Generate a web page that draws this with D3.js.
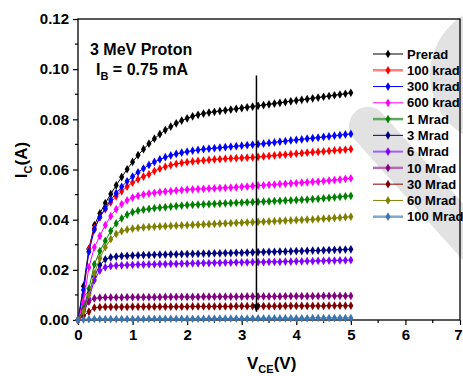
<!DOCTYPE html>
<html><head><meta charset="utf-8">
<script src="https://cdn.jsdelivr.net/npm/d3@7"></script>
<style>body{margin:0;background:#fff;}svg{display:block;font-family:"Liberation Sans",Arial,sans-serif;font-weight:bold;}</style>
</head><body>
<svg id="c" width="463" height="376"></svg>
<script>
const voltage = [0,0.1,0.2,0.3,0.4,0.5,0.6,0.7,0.8,0.9,1.0,1.1,1.2,1.3,1.4,1.5,1.6,1.7,1.8,1.9,2.0,2.1,2.2,2.3,2.4,2.5,2.6,2.7,2.8,2.9,3.0,3.1,3.2,3.3,3.4,3.5,3.6,3.7,3.8,3.9,4.0,4.1,4.2,4.3,4.4,4.5,4.6,4.7,4.8,4.9,5.0];
const seriesNames = ["Prerad","100 krad","300 krad","600 krad","1 Mrad","3 Mrad","6 Mrad","10 Mrad","30 Mrad","60 Mrad","100 Mrad"];
const prerad  = [0,0.0135,0.0284,0.0378,0.0425,0.0466,0.0502,0.0537,0.0570,0.0601,0.0630,0.0657,0.0681,0.0703,0.0723,0.0741,0.0757,0.0771,0.0784,0.0795,0.0804,0.0812,0.0818,0.0823,0.0827,0.0830,0.0833,0.0836,0.0839,0.0842,0.0845,0.0848,0.0851,0.0854,0.0857,0.0860,0.0863,0.0866,0.0869,0.0872,0.0875,0.0878,0.0881,0.0884,0.0887,0.0890,0.0893,0.0896,0.0899,0.0902,0.0906];
const krad100 = [0,0.0100,0.0282,0.0366,0.0410,0.0442,0.0469,0.0493,0.0513,0.0532,0.0548,0.0561,0.0572,0.0581,0.0594,0.0603,0.0611,0.0617,0.0622,0.0626,0.0629,0.0632,0.0634,0.0636,0.0638,0.0640,0.0641,0.0643,0.0644,0.0645,0.0646,0.0647,0.0648,0.0650,0.0652,0.0654,0.0656,0.0658,0.0659,0.0661,0.0663,0.0665,0.0667,0.0669,0.0670,0.0672,0.0674,0.0676,0.0677,0.0679,0.0681];
const krad300 = [0,0.0120,0.0272,0.0360,0.0410,0.0446,0.0478,0.0506,0.0531,0.0553,0.0572,0.0589,0.0604,0.0618,0.0630,0.0640,0.0649,0.0656,0.0662,0.0667,0.0671,0.0675,0.0678,0.0681,0.0683,0.0685,0.0687,0.0689,0.0691,0.0693,0.0695,0.0697,0.0699,0.0701,0.0703,0.0706,0.0708,0.0711,0.0713,0.0716,0.0718,0.0720,0.0723,0.0725,0.0727,0.0730,0.0732,0.0735,0.0737,0.0740,0.0742];
const krad600 = [0,0.0070,0.0210,0.0290,0.0335,0.0378,0.0414,0.0442,0.0462,0.0477,0.0488,0.0495,0.0500,0.0504,0.0507,0.0510,0.0512,0.0514,0.0516,0.0518,0.0520,0.0521,0.0522,0.0523,0.0524,0.0525,0.0526,0.0527,0.0528,0.0529,0.0531,0.0532,0.0534,0.0536,0.0537,0.0539,0.0540,0.0542,0.0543,0.0545,0.0546,0.0548,0.0549,0.0551,0.0552,0.0554,0.0556,0.0558,0.0560,0.0563,0.0565];
const mrad1   = [0,0.0045,0.0125,0.0222,0.0275,0.0315,0.0355,0.0385,0.0405,0.0420,0.0430,0.0436,0.0440,0.0443,0.0446,0.0448,0.0450,0.0452,0.0454,0.0456,0.0458,0.0459,0.0460,0.0461,0.0462,0.0463,0.0464,0.0465,0.0466,0.0467,0.0468,0.0469,0.0470,0.0471,0.0472,0.0473,0.0474,0.0475,0.0476,0.0477,0.0478,0.0479,0.0480,0.0482,0.0483,0.0485,0.0487,0.0489,0.0491,0.0493,0.0495];
const mrad3   = [0,0.0035,0.0106,0.0173,0.0219,0.0242,0.0250,0.0253,0.0255,0.0256,0.0257,0.0258,0.0259,0.0259,0.0260,0.0261,0.0261,0.0262,0.0262,0.0263,0.0263,0.0264,0.0264,0.0265,0.0265,0.0266,0.0266,0.0267,0.0267,0.0268,0.0268,0.0269,0.0270,0.0271,0.0271,0.0272,0.0272,0.0273,0.0273,0.0274,0.0275,0.0275,0.0276,0.0277,0.0277,0.0278,0.0279,0.0280,0.0280,0.0281,0.0282];
const mrad6   = [0,0.0020,0.0085,0.0159,0.0197,0.0210,0.0215,0.0217,0.0218,0.0219,0.0220,0.0221,0.0221,0.0222,0.0222,0.0223,0.0223,0.0224,0.0224,0.0225,0.0225,0.0226,0.0226,0.0227,0.0227,0.0228,0.0228,0.0229,0.0229,0.0230,0.0230,0.0230,0.0231,0.0231,0.0231,0.0232,0.0232,0.0232,0.0233,0.0233,0.0234,0.0234,0.0235,0.0235,0.0236,0.0236,0.0237,0.0237,0.0238,0.0238,0.0239];
const mrad10  = [0,0.0040,0.0073,0.0086,0.0089,0.0090,0.0090,0.0090,0.0090,0.0091,0.0091,0.0091,0.0091,0.0091,0.0091,0.0091,0.0092,0.0092,0.0092,0.0092,0.0092,0.0092,0.0092,0.0093,0.0093,0.0093,0.0093,0.0093,0.0093,0.0093,0.0093,0.0094,0.0094,0.0094,0.0094,0.0094,0.0094,0.0094,0.0095,0.0095,0.0095,0.0095,0.0095,0.0095,0.0095,0.0096,0.0096,0.0096,0.0096,0.0096,0.0096];
const mrad30  = [0,0.0016,0.0033,0.0049,0.0051,0.0052,0.0052,0.0052,0.0052,0.0052,0.0053,0.0053,0.0053,0.0053,0.0053,0.0053,0.0053,0.0053,0.0053,0.0053,0.0053,0.0054,0.0054,0.0054,0.0054,0.0054,0.0054,0.0054,0.0054,0.0055,0.0055,0.0055,0.0055,0.0055,0.0055,0.0055,0.0055,0.0055,0.0056,0.0056,0.0056,0.0056,0.0056,0.0056,0.0056,0.0056,0.0057,0.0057,0.0057,0.0057,0.0057];
const mrad60  = [0,0.0033,0.0100,0.0185,0.0246,0.0290,0.0322,0.0343,0.0354,0.0360,0.0364,0.0367,0.0369,0.0371,0.0372,0.0373,0.0374,0.0375,0.0376,0.0377,0.0378,0.0379,0.0380,0.0381,0.0382,0.0383,0.0384,0.0385,0.0386,0.0387,0.0388,0.0389,0.0390,0.0391,0.0392,0.0393,0.0394,0.0395,0.0396,0.0397,0.0398,0.0399,0.0400,0.0401,0.0403,0.0404,0.0405,0.0407,0.0408,0.0410,0.0412];
const mrad100 = [0,0.0002,0.0003,0.0004,0.0004,0.0004,0.0004,0.0004,0.0004,0.0004,0.0004,0.0004,0.0004,0.0005,0.0005,0.0005,0.0005,0.0005,0.0005,0.0005,0.0005,0.0005,0.0005,0.0005,0.0006,0.0006,0.0006,0.0006,0.0006,0.0006,0.0006,0.0006,0.0006,0.0007,0.0007,0.0007,0.0007,0.0007,0.0007,0.0007,0.0007,0.0007,0.0007,0.0008,0.0008,0.0008,0.0008,0.0008,0.0008,0.0008,0.0008];
const seriesValues = [prerad,krad100,krad300,krad600,mrad1,mrad3,mrad6,mrad10,mrad30,mrad60,mrad100];
const seriesColors = ["#000000","#FF0000","#0000FF","#FF00FF","#008000","#000080","#8000FF","#800080","#800000","#808000","#3B76B0"];
const legendLineColors = ["#000000","#FF8080","#0000FF","#FF00FF","#60A860","#000080","#A060FF","#B070B0","#800000","#808000","#80A8D0"];
const legendLineWidths = [1,2.5,1,1,2.5,1,2,2.5,1,1,2.5];
const xTicks = [0,1,2,3,4,5,6,7];
const yTicks = [0,0.02,0.04,0.06,0.08,0.10,0.12];
const markerV = 3.27, markerTop = 0.0975, markerBottom = 0.0033;

const svg = d3.select("#c");
const L=78, R=460, T=19, B=320;
const x = d3.scaleLinear().domain([0,7]).range([L,R]);
const y = d3.scaleLinear().domain([0,0.12]).range([B,T]);

// background watermark shapes
svg.append("line").attr("x1",368).attr("y1",126).attr("x2",490).attr("y2",262)
  .attr("stroke","#e2e2e2").attr("stroke-width",38).attr("stroke-linecap","round");
svg.append("circle").attr("cx",500).attr("cy",75).attr("r",70).attr("fill","#e2e2e2");

// axes
const xAxis = d3.axisBottom(x).tickValues(xTicks).tickFormat(d3.format("d")).tickSize(5).tickPadding(4);
const gx = svg.append("g").attr("transform",`translate(0,${B})`).call(xAxis);
const yAxis = d3.axisLeft(y).tickValues(yTicks).tickFormat(d3.format(".2f")).tickSize(5).tickPadding(4);
const gy = svg.append("g").attr("transform",`translate(${L},0)`).call(yAxis);
[gx,gy].forEach(g=>{g.select(".domain").remove();g.selectAll("line").attr("stroke","#000").attr("stroke-width",1.2);
  g.selectAll("text").attr("font-size",15).attr("font-weight","bold").attr("fill","#000").attr("font-family","Liberation Sans, Arial, sans-serif");});
gx.selectAll(".tick").filter(d=>d===7).select("text").attr("dx",-2);
// minor ticks
const xMinor = xTicks.slice(0,-1).map(d=>d+0.5);
svg.append("g").selectAll("line").data(xMinor).join("line")
  .attr("x1",d=>x(d)).attr("x2",d=>x(d)).attr("y1",B).attr("y2",B+3).attr("stroke","#000").attr("stroke-width",1.2);
const yMinor = yTicks.slice(0,-1).map(d=>d+0.01);
svg.append("g").selectAll("line").data(yMinor).join("line")
  .attr("y1",d=>y(d)).attr("y2",d=>y(d)).attr("x1",L-3).attr("x2",L).attr("stroke","#000").attr("stroke-width",1.2);
// frame
svg.append("rect").attr("x",L).attr("y",T).attr("width",R-L).attr("height",B-T)
  .attr("fill","none").attr("stroke","#000").attr("stroke-width",1.3);

// series
const line = d3.line().x((d,i)=>x(voltage[i])).y(d=>y(d));
const sym = d3.symbol().type(d3.symbolDiamond).size(22);
seriesValues.forEach((vals,k)=>{
  const g = svg.append("g");
  g.append("path").datum(vals).attr("d",line).attr("fill","none").attr("stroke",seriesColors[k]).attr("stroke-width",1);
  g.selectAll("path.m").data(vals).join("path").attr("class","m")
    .attr("transform",(d,i)=>`translate(${x(voltage[i])},${y(d)})`).attr("d",sym).attr("fill",seriesColors[k]);
});

// vertical arrow line
svg.append("defs").append("marker").attr("id","ar").attr("viewBox","0 0 10 10").attr("refX",10).attr("refY",5)
  .attr("markerWidth",5).attr("markerHeight",5).attr("orient","auto")
  .append("path").attr("d","M0,0L10,5L0,10z").attr("fill","#000");
svg.append("line").attr("x1",x(markerV)).attr("x2",x(markerV)).attr("y1",y(markerTop)).attr("y2",y(markerBottom))
  .attr("stroke","#000").attr("stroke-width",1.5).attr("marker-end","url(#ar)");

// annotation text
svg.append("text").attr("x",90).attr("y",55).attr("font-size",16).text("3 MeV Proton");
const t2 = svg.append("text").attr("x",96).attr("y",75).attr("font-size",16);
t2.append("tspan").text("I");
t2.append("tspan").attr("font-size",11).attr("dy",5).text("B");
t2.append("tspan").attr("dy",-5).text(" = 0.75 mA");

// legend
const lg = svg.append("g");
seriesNames.forEach((n,i)=>{
  const yy = 54 + i*16.27;
  lg.append("line").attr("x1",373).attr("x2",403).attr("y1",yy).attr("y2",yy)
    .attr("stroke",legendLineColors[i]).attr("stroke-width",legendLineWidths[i]);
  lg.append("path").attr("transform",`translate(388,${yy})`).attr("d",sym).attr("fill",seriesColors[i]);
  lg.append("text").attr("x",407).attr("y",yy).attr("dy","0.36em").attr("font-size",13).text(n);
});

// axis titles
const yt = svg.append("text").attr("transform","translate(27,160) rotate(-90)").attr("text-anchor","middle").attr("font-size",17);
yt.append("tspan").text("I");
yt.append("tspan").attr("font-size",11).attr("dy",5).text("C");
yt.append("tspan").attr("dy",-5).text("(A)");
const xt = svg.append("text").attr("x",247).attr("y",369).attr("font-size",17);
xt.append("tspan").text("V");
xt.append("tspan").attr("font-size",11).attr("dy",4).text("CE");
xt.append("tspan").attr("dy",-4).text("(V)");
</script>
</body></html>
